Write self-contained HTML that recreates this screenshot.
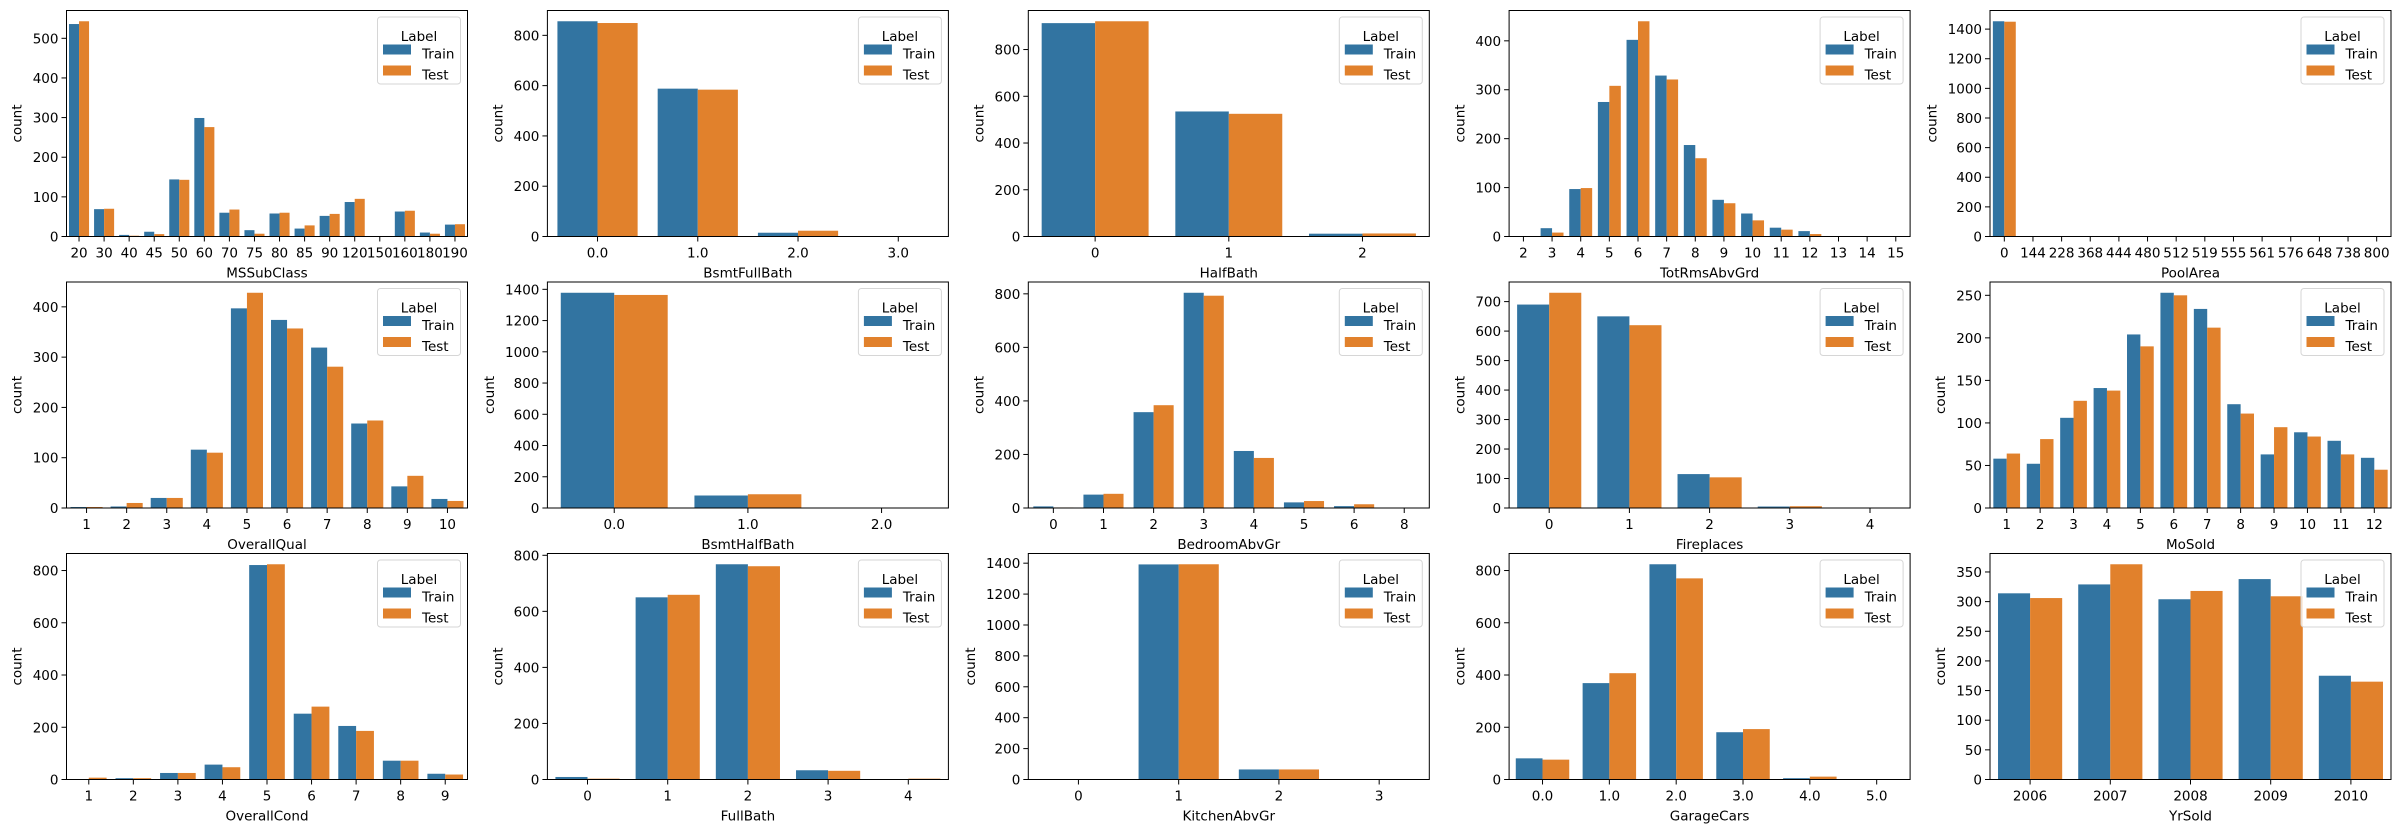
<!DOCTYPE html>
<html><head><meta charset="utf-8">
<style>
html,body{margin:0;padding:0;background:#fff;}
svg{display:block;font-family:"DejaVu Sans","Liberation Sans",sans-serif;}
</style></head>
<body>
<svg id="fig" width="2400" height="833" viewBox="0 0 2400 833" xmlns="http://www.w3.org/2000/svg"></svg>
<script>
// ---- data ----
const msCats=["20","30","40","45","50","60","70","75","80","85","90","120","150","160","180","190"];
const msTrain=[536,69,4,12,144,299,60,16,58,20,52,87,0,63,10,30];
const msTest=[543,70,2,6,143,276,68,7,60,28,57,95,1,65,7,31];
const msTicks=[0,100,200,300,400,500];

const bfbCats=["0.0","1.0","2.0","3.0"];
const bfbTrain=[856,588,15,1];
const bfbTest=[849,584,23,0];
const bfbTicks=[0,200,400,600,800];

const hbCats=["0","1","2"];
const hbTrain=[913,535,12];
const hbTest=[921,525,13];
const hbTicks=[0,200,400,600,800];

const trCats=["2","3","4","5","6","7","8","9","10","11","12","13","14","15"];
const trTrain=[0,17,97,275,402,329,187,75,47,18,11,0,1,0];
const trTest=[1,8,99,308,440,321,160,68,33,14,5,1,0,1];
const trTicks=[0,100,200,300,400];

const paCats=["0","144","228","368","444","480","512","519","555","561","576","648","738","800"];
const paTrain=[1453,1,1,1,1,1,1,1,1,1,1,1,1,1];
const paTest=[1450,0,0,0,0,0,0,0,0,0,0,0,0,0];
const paTicks=[0,200,400,600,800,1000,1200,1400];

const oqCats=["1","2","3","4","5","6","7","8","9","10"];
const oqTrain=[2,3,20,116,397,374,319,168,43,18];
const oqTest=[2,10,20,110,428,357,281,174,64,14];
const oqTicks=[0,100,200,300,400];

const bhbCats=["0.0","1.0","2.0"];
const bhbTrain=[1378,80,2];
const bhbTest=[1364,88,2];
const bhbTicks=[0,200,400,600,800,1000,1200,1400];

const brCats=["0","1","2","3","4","5","6","8"];
const brTrain=[6,50,358,804,213,21,7,1];
const brTest=[2,53,384,793,187,26,14,0];
const brTicks=[0,200,400,600,800];

const fpCats=["0","1","2","3","4"];
const fpTrain=[690,650,115,5,0];
const fpTest=[730,620,104,6,1];
const fpTicks=[0,100,200,300,400,500,600,700];

const moCats=["1","2","3","4","5","6","7","8","9","10","11","12"];
const moTrain=[58,52,106,141,204,253,234,122,63,89,79,59];
const moTest=[64,81,126,138,190,250,212,111,95,84,63,45];
const moTicks=[0,50,100,150,200,250];

const ocCats=["1","2","3","4","5","6","7","8","9"];
const ocTrain=[1,5,25,57,821,252,205,72,22];
const ocTest=[7,5,25,47,824,279,186,72,19];
const ocTicks=[0,200,400,600,800];

const fbCats=["0","1","2","3","4"];
const fbTrain=[9,650,768,33,0];
const fbTest=[3,659,761,31,3];
const fbTicks=[0,200,400,600,800];

const kaCats=["0","1","2","3"];
const kaTrain=[0,1392,65,2];
const kaTest=[2,1393,65,0];
const kaTicks=[0,200,400,600,800,1000,1200,1400];

const gcCats=["0.0","1.0","2.0","3.0","4.0","5.0"];
const gcTrain=[81,369,824,181,5,0];
const gcTest=[76,407,770,193,11,1];
const gcTicks=[0,200,400,600,800];

const ysCats=["2006","2007","2008","2009","2010"];
const ysTrain=[314,329,304,338,175];
const ysTest=[306,363,318,309,165];
const ysTicks=[0,50,100,150,200,250,300,350];

const panels=[
 ["MSSubClass",msCats,msTrain,msTest,msTicks],
 ["BsmtFullBath",bfbCats,bfbTrain,bfbTest,bfbTicks],
 ["HalfBath",hbCats,hbTrain,hbTest,hbTicks],
 ["TotRmsAbvGrd",trCats,trTrain,trTest,trTicks],
 ["PoolArea",paCats,paTrain,paTest,paTicks],
 ["OverallQual",oqCats,oqTrain,oqTest,oqTicks],
 ["BsmtHalfBath",bhbCats,bhbTrain,bhbTest,bhbTicks],
 ["BedroomAbvGr",brCats,brTrain,brTest,brTicks],
 ["Fireplaces",fpCats,fpTrain,fpTest,fpTicks],
 ["MoSold",moCats,moTrain,moTest,moTicks],
 ["OverallCond",ocCats,ocTrain,ocTest,ocTicks],
 ["FullBath",fbCats,fbTrain,fbTest,fbTicks],
 ["KitchenAbvGr",kaCats,kaTrain,kaTest,kaTicks],
 ["GarageCars",gcCats,gcTrain,gcTest,gcTicks],
 ["YrSold",ysCats,ysTrain,ysTest,ysTicks]
];

const NS="http://www.w3.org/2000/svg";
const svg=document.getElementById('fig');
const C1="#3274a1", C2="#e1812c";
const LEFTS=[66.5,547.4,1028.3,1509.1,1990], TOPS=[10.5,282,553.5];
const W=401, H=226, FS=13.5;
function mk(tag,attrs,parent){const e=document.createElementNS(NS,tag);for(const k in attrs)e.setAttribute(k,attrs[k]);(parent||svg).appendChild(e);return e;}
function slug(s){return s.replace(/([a-z])([A-Z])/g,'$1-$2').toLowerCase();}

panels.forEach((p,i)=>{
  const [name,cats,tr,te,ticks]=p;
  const L=LEFTS[i%5], T=TOPS[Math.floor(i/5)], B=T+H, R=L+W;
  const g=mk('g',{});
  
  
  const ymax=Math.max(...tr,...te)*1.05;
  const n=cats.length;
  const xs=v=>L+(v+0.5)/n*W;
  const ys=v=>B-v/ymax*H;
  // bars
  for(let k=0;k<n;k++){
    [[tr,C1,-0.4,'train'],[te,C2,0,'test']].forEach(([arr,col,off,lab])=>{
      const x0=xs(k+off), x1=xs(k+off+0.4), y=ys(arr[k]);
      const r=mk('rect',{x:x0,y:y,width:x1-x0,height:B-y,fill:col},g);
      
      
    });
  }
  // y ticks
  let maxw=0;
  ticks.forEach(t=>{
    const y=ys(t);
    mk('line',{x1:L-5,x2:L,y1:y,y2:y,stroke:'#000','stroke-width':1},g);
    const tx=mk('text',{x:L-8,y:y+5,'text-anchor':'end','font-size':FS,fill:'#000'},g);
    tx.textContent=String(t);
    
    
    maxw=Math.max(maxw,String(t).length*8.6);
  });
  // x ticks
  cats.forEach((c,k)=>{
    const x=xs(k);
    mk('line',{x1:x,x2:x,y1:B,y2:B+5,stroke:'#000','stroke-width':1},g);
    const tx=mk('text',{x:x,y:B+21,'text-anchor':'middle','font-size':FS,fill:'#000'},g);
    tx.textContent=c;
    
    
  });
  // frame
  mk('rect',{x:L,y:T,width:W,height:H,fill:'none',stroke:'#000','stroke-width':1},g);
  // labels
  const xl=mk('text',{x:L+W/2,y:B+41,'text-anchor':'middle','font-size':FS,fill:'#000'},g);
  xl.textContent=name;
  
  
  const yx=L-8-maxw-11, yy=T+H/2;
  const yl=mk('text',{x:yx,y:yy,'text-anchor':'middle','font-size':FS,fill:'#000',transform:`rotate(-90 ${yx} ${yy})`},g);
  yl.textContent='count';
  
  
  // legend
  const lg=mk('g',{},g);
  
  
  const lx=R-90, ly=T+6.5;
  mk('rect',{x:lx,y:ly,width:83,height:67,rx:3,fill:'#fff','fill-opacity':0.8,stroke:'#d6d6d6','stroke-width':1},lg);
  const tt=mk('text',{x:lx+41.5,y:ly+24,'text-anchor':'middle','font-size':FS,fill:'#000'},lg);
  tt.textContent='Label';
  [['Train',C1,0],['Test',C2,21]].forEach(([lab,col,dy])=>{
    const e=mk('g',{},lg);
    
    
    mk('rect',{x:lx+5.5,y:ly+27.5+dy,width:28,height:10,fill:col},e);
    const t=mk('text',{x:lx+44.5,y:ly+37.5+dy+4,'font-size':FS,fill:'#000'},e);
    t.textContent=lab;
  });
});
</script>
</body></html>
